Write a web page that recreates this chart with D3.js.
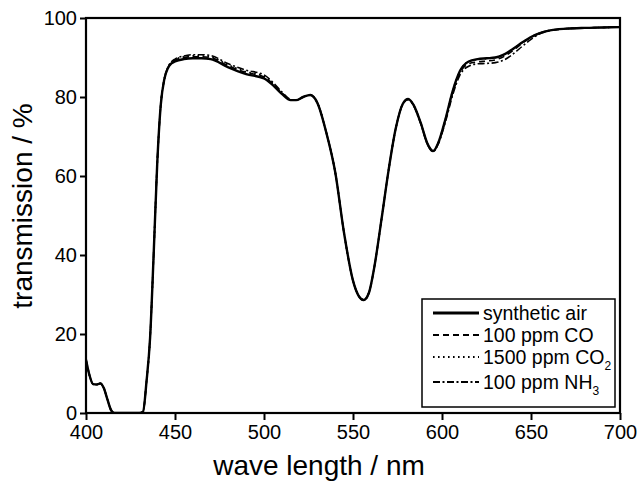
<!DOCTYPE html>
<html>
<head>
<meta charset="utf-8">
<script src="https://cdn.jsdelivr.net/npm/d3@7"></script>
<style>
  body { margin: 0; background: #fff; }
  svg { display: block; font-family: Arial, "Liberation Sans", Helvetica, sans-serif; }
</style>
</head>
<body>
<svg id="chart" width="638" height="482"></svg>
<script>
// wavelengths in nm
const wavelength = [400, 402, 404, 406, 408, 410, 412, 414, 416, 420, 425, 430, 432, 434, 436, 438, 440, 442, 444, 446,
    448, 450, 455, 460, 465, 470, 480, 490, 500, 505, 510, 515, 518, 522, 526, 530, 535, 540, 545, 550,
    553, 556, 559, 562, 566, 570, 574, 578, 581, 584, 588, 592, 595, 598, 602, 606, 610, 615, 620, 625,
    630, 635, 640, 645, 650, 655, 660, 670, 680, 690, 700];

// transmission in %
const syntheticAir = [13.5, 9.5, 7.3, 7.2, 7.5, 6.3, 3.5, 0.8, 0, 0, 0, 0, 0.3, 8, 19, 40, 63, 78, 84.5, 87.3,
    88.5, 89, 89.6, 89.8, 89.8, 89.6, 87.5, 85.8, 84.7, 83, 80.8, 79.2, 79.2, 80, 80.5, 78.5, 71, 61, 45.5, 33.5,
    29.8, 28.6, 30.5, 37, 49, 61.5, 72, 78.3, 79.5, 78, 73.5, 68, 66.3, 68.5, 74.5, 81.5, 86.5, 89, 89.6, 89.8,
    90, 90.8, 92.2, 93.8, 95.2, 96.2, 96.8, 97.3, 97.5, 97.6, 97.7];
const co100 = [13.5, 9.5, 7.3, 7.2, 7.5, 6.3, 3.5, 0.8, 0, 0, 0, 0, 0.3, 8, 19, 40, 63, 78, 84.5, 87.4,
    88.7, 89.3, 90, 90.2, 90.2, 90, 87.9, 86.2, 85.1, 83.3, 81, 79.3, 79.2, 80, 80.5, 78.5, 71, 61, 45.5, 33.5,
    29.8, 28.6, 30.5, 37, 49, 61.5, 72, 78.2, 79.4, 78, 73.5, 68, 66.4, 68.5, 74.3, 81, 86, 88.4, 88.9, 89.1,
    89.4, 90.3, 91.8, 93.6, 95.1, 96.2, 96.8, 97.3, 97.5, 97.6, 97.7];
const co2_1500 = [13.5, 9.5, 7.3, 7.2, 7.5, 6.3, 3.5, 0.8, 0, 0, 0, 0, 0.3, 8, 19, 40, 63, 78, 84.5, 87.4,
    88.7, 89.4, 90.2, 90.4, 90.4, 90.2, 88.1, 86.4, 85.3, 83.4, 81, 79.3, 79.2, 80, 80.5, 78.5, 71, 61, 45.5, 33.5,
    29.8, 28.6, 30.5, 37, 49, 61.5, 72, 78.3, 79.5, 78, 73.5, 68, 66.3, 68.5, 74.5, 81.5, 86.5, 89, 89.5, 89.7,
    90, 90.8, 92.2, 93.8, 95.2, 96.2, 96.8, 97.3, 97.5, 97.6, 97.7];
const nh3_100 = [13.5, 9.5, 7.3, 7.2, 7.5, 6.3, 3.5, 0.8, 0, 0, 0, 0, 0.3, 8, 19, 40, 63, 78, 84.5, 87.5,
    88.9, 89.6, 90.4, 90.7, 90.7, 90.5, 88.4, 86.8, 85.6, 83.7, 81.3, 79.4, 79.2, 80, 80.5, 78.5, 71, 61, 45.5, 33.5,
    29.8, 28.6, 30.5, 37, 49, 61.5, 72, 78.2, 79.4, 77.8, 73.3, 67.8, 66.2, 68.2, 73.8, 80.5, 85.5, 87.8, 88.4, 88.5,
    88.7, 89.4, 90.9, 92.8, 94.6, 96, 96.7, 97.3, 97.5, 97.6, 97.7];

const series = [
    {name: "synthetic air", sub: "", values: syntheticAir, dash: null, width: 2.4},
    {name: "100 ppm CO", sub: "", values: co100, dash: "6,4", width: 1.6},
    {name: "1500 ppm CO", sub: "2", values: co2_1500, dash: "1.6,3.4", width: 1.6},
    {name: "100 ppm NH", sub: "3", values: nh3_100, dash: "7,2.5,2,2.5", width: 1.6}
];

const xTicks = [400, 450, 500, 550, 600, 650, 700];
const yTicks = [0, 20, 40, 60, 80, 100];

const margin = {top: 18, right: 18, bottom: 69, left: 86};
const width = 638 - margin.left - margin.right;
const height = 482 - margin.top - margin.bottom;

const svg = d3.select("#chart");
const g = svg.append("g").attr("transform", "translate(" + margin.left + "," + margin.top + ")");

const x = d3.scaleLinear().domain([400, 700]).range([0, width]);
const y = d3.scaleLinear().domain([0, 100]).range([height, 0]);

// curves
const line = d3.line()
    .x(d => x(d[0]))
    .y(d => y(d[1]))
    .curve(d3.curveMonotoneX);

g.append("defs").append("clipPath").attr("id", "clip")
    .append("rect").attr("width", width).attr("height", height);

series.slice().reverse().forEach(s => {
    g.append("path")
        .datum(wavelength.map((w, i) => [w, s.values[i]]))
        .attr("clip-path", "url(#clip)")
        .attr("fill", "none")
        .attr("stroke", "#000")
        .attr("stroke-width", s.width)
        .attr("stroke-dasharray", s.dash)
        .attr("d", line);
});

// axes
const xAxis = g.append("g").attr("transform", "translate(0," + height + ")");
xAxis.call(d3.axisBottom(x).tickValues(d3.range(400, 701, 25)).tickSize(4).tickFormat(""));
xAxis.call(d3.axisBottom(x).tickValues(xTicks).tickSize(7).tickPadding(5).tickFormat(d3.format("d")));

const yAxis = g.append("g");
yAxis.call(d3.axisLeft(y).tickValues(d3.range(0, 101, 10)).tickSize(4).tickFormat(""));
yAxis.call(d3.axisLeft(y).tickValues(yTicks).tickSize(6).tickPadding(3).tickFormat(d3.format("d")));

g.selectAll(".domain").remove();
g.selectAll(".tick line").attr("stroke", "#000").attr("stroke-width", 2);
g.selectAll(".tick text").attr("fill", "#000").style("font-size", "20px").style("font-family", "Arial, 'Liberation Sans', sans-serif");

g.append("rect")
    .attr("width", width).attr("height", height)
    .attr("fill", "none").attr("stroke", "#000").attr("stroke-width", 2.2);

// axis titles
svg.append("text")
    .attr("x", 319).attr("y", 475)
    .attr("text-anchor", "middle").style("font-size", "28px")
    .text("wave length / nm");

svg.append("text")
    .attr("transform", "translate(32,206) rotate(-90)")
    .attr("text-anchor", "middle").style("font-size", "28px")
    .text("transmission / %");

// legend
const legend = svg.append("g").attr("transform", "translate(422,299)");
legend.append("rect")
    .attr("width", 193).attr("height", 108)
    .attr("fill", "#fff").attr("stroke", "#000").attr("stroke-width", 1.5);

const rowY = [14, 36, 58, 83];
series.forEach((s, i) => {
    const row = legend.append("g").attr("transform", "translate(0," + rowY[i] + ")");
    row.append("line")
        .attr("x1", 11).attr("x2", 57).attr("y1", 0).attr("y2", 0)
        .attr("stroke", "#000").attr("stroke-width", s.width + 0.6)
        .attr("stroke-dasharray", s.dash);
    const t = row.append("text")
        .attr("x", 61).attr("y", 7)
        .style("font-size", "19.5px")
        .text(s.name);
    if (s.sub) {
        t.append("tspan").attr("dy", 6).style("font-size", "12px").text(s.sub);
    }
});
</script>
</body>
</html>
